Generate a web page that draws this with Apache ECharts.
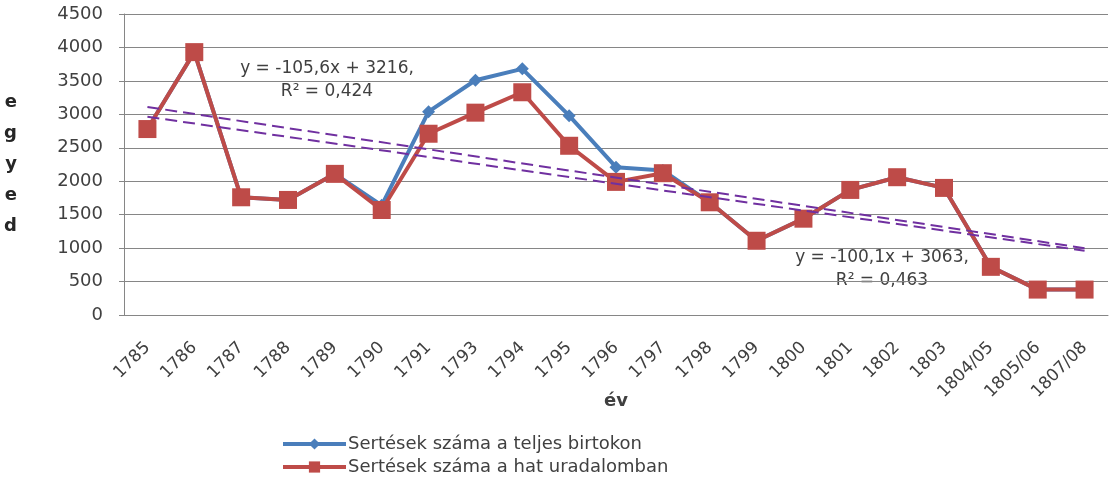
<!DOCTYPE html>
<html>
<head>
<meta charset="utf-8">
<script src="https://cdn.jsdelivr.net/npm/echarts@6/dist/echarts.min.js"></script>
<style>
  html, body { margin: 0; padding: 0; background: #fff; }
  #chart { width: 1109px; height: 479px; }
</style>
</head>
<body>
<div id="chart"></div>
<script>
var years = ["1785", "1786", "1787", "1788", "1789", "1790", "1791", "1793", "1794", "1795",
  "1796", "1797", "1798", "1799", "1800", "1801", "1802", "1803", "1804/05", "1805/06", "1807/08"];
var teljes = [2780, 3930, 1760, 1720, 2110, 1640, 3040, 3510, 3680, 2980,
  2210, 2160, 1685, 1110, 1440, 1870, 2060, 1900, 720, 380, 380];
var hatUradalom = [2780, 3930, 1760, 1720, 2110, 1570, 2710, 3025, 3330, 2530,
  1990, 2120, 1685, 1110, 1440, 1870, 2060, 1900, 720, 380, 380];
// trendline equations as printed on the chart: y = slope * x + intercept, x = 1..n
var trendTeljes = { slope: -105.6, intercept: 3216 };
var trendHat = { slope: -100.1, intercept: 3063 };
var yTicks = [0, 500, 1000, 1500, 2000, 2500, 3000, 3500, 4000, 4500];

var font = "'DejaVu Sans', sans-serif";
var txt = "#404040";
var n = years.length;

function trendPoints(t) {
  return [
    [years[0], t.slope * 1 + t.intercept],
    [years[n - 1], t.slope * n + t.intercept]
  ];
}

var chart = echarts.init(document.getElementById("chart"));
chart.setOption({
  animation: false,
  textStyle: { fontFamily: font },
  grid: { left: 124, right: 1, top: 14, bottom: 164 },
  legend: {
    orient: "vertical",
    left: 281,
    top: 433,
    padding: 0,
    height: 47,
    itemGap: 1,
    itemWidth: 63,
    itemHeight: 14,
    data: [
      { name: "Sertések száma a teljes birtokon", lineStyle: { width: 4 } },
      { name: "Sertések száma a hat uradalomban", lineStyle: { width: 4 } }
    ],
    textStyle: { fontFamily: font, fontSize: 18, color: txt, lineHeight: 22, padding: [0, 0, 0, -3] }
  },
  xAxis: {
    type: "category",
    data: years,
    name: "év",
    nameLocation: "middle",
    nameGap: 77,
    nameMoveOverlap: false,
    nameTextStyle: { fontFamily: font, fontSize: 18, fontWeight: "bold", color: txt },
    axisLine: { lineStyle: { color: "#868686", width: 1 } },
    axisTick: { length: 5, lineStyle: { color: "#868686" } },
    axisLabel: { rotate: 45, fontFamily: font, fontSize: 17, color: txt, margin: 30, interval: 0 }
  },
  yAxis: {
    type: "value",
    min: yTicks[0],
    max: yTicks[yTicks.length - 1],
    interval: 500,
    name: "e\ng\ny\ne\nd",
    nameLocation: "middle",
    nameRotate: 0,
    nameGap: 107,
    nameMoveOverlap: false,
    nameTextStyle: { fontFamily: font, fontSize: 18, fontWeight: "bold", color: "#262626", lineHeight: 31 },
    axisLine: { show: true, lineStyle: { color: "#868686", width: 1 } },
    axisTick: { show: true, length: 5, lineStyle: { color: "#868686" } },
    axisLabel: {
      fontFamily: font, fontSize: 18, color: txt, margin: 21,
      formatter: function (v) { return String(v); }
    },
    splitLine: { lineStyle: { color: "#868686", width: 1 } }
  },
  series: [
    {
      name: "Sertések száma a teljes birtokon",
      type: "line",
      data: teljes,
      symbol: "diamond",
      symbolSize: 13,
      lineStyle: { color: "#4A7EBB", width: 4 },
      itemStyle: { color: "#4A7EBB" },
      z: 2
    },
    {
      name: "Sertések száma a hat uradalomban",
      type: "line",
      data: hatUradalom,
      symbol: "rect",
      symbolSize: 18,
      lineStyle: { color: "#BE4B48", width: 4 },
      itemStyle: { color: "#BE4B48" },
      z: 3
    },
    {
      name: "trend teljes",
      type: "line",
      data: trendPoints(trendTeljes),
      symbol: "none",
      lineStyle: { color: "#7030A0", width: 2, type: [12, 6] },
      z: 4
    },
    {
      name: "trend hat",
      type: "line",
      data: trendPoints(trendHat),
      symbol: "none",
      lineStyle: { color: "#7030A0", width: 2, type: [12, 6] },
      z: 4
    }
  ],
  graphic: [
    {
      type: "text",
      x: 327,
      y: 57,
      style: {
        text: "y = -105,6x + 3216,\nR² = 0,424",
        fontFamily: font,
        fontSize: 17,
        fill: txt,
        align: "center",
        lineHeight: 23
      }
    },
    {
      type: "text",
      x: 882,
      y: 246,
      style: {
        text: "y = -100,1x + 3063,\nR² = 0,463",
        fontFamily: font,
        fontSize: 17,
        fill: txt,
        align: "center",
        lineHeight: 23
      }
    }
  ]
});
</script>
</body>
</html>
